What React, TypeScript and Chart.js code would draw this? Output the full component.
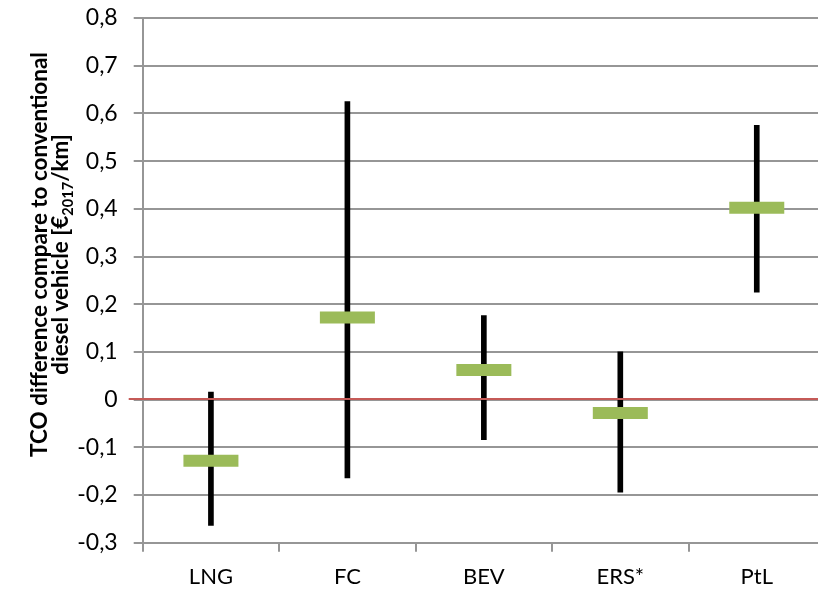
import React, { useEffect, useRef } from 'react';
import { Chart, registerables } from 'chart.js';

Chart.register(...registerables);

// ---- data ----
const categories = ['LNG', 'FC', 'BEV', 'ERS*', 'PtL'];
const minValues = [-0.264, -0.164, -0.084, -0.194, 0.225];
const maxValues = [0.016, 0.625, 0.176, 0.1, 0.575];
const meanValues = [-0.128, 0.172, 0.062, -0.028, 0.402];
const referenceValue = 0;
const yMin = -0.3;
const yMax = 0.8;
const yStep = 0.1;
const titleLine1 = 'TCO difference compare to conventional';
const titleLine2Main = 'diesel vehicle [€';
const titleLine2Sub = '2017';
const titleLine2End = '/km]';

const FAMILY = 'Lato, "Open Sans", sans-serif';
const GRID = '#969696';

function fmt(v: number): string {
  const r = Math.round(v * 10) / 10;
  if (r === 0) return '0';
  return r.toFixed(1).replace('.', ',');
}

function zeroPadding(scale: any) {
  scale.paddingTop = 0;
  scale.paddingBottom = 0;
  scale.paddingLeft = 0;
  scale.paddingRight = 0;
}

export default function App() {
  const ref = useRef<HTMLCanvasElement>(null);

  useEffect(() => {
    const canvas = ref.current;
    if (!canvas) return;

    const refLinePlugin = {
      id: 'refLine',
      afterDatasetDraw(chart: any, args: any) {
        if (args.index !== 0) return;
        const ctx = chart.ctx;
        const y = chart.scales.y.getPixelForValue(referenceValue);
        ctx.save();
        ctx.strokeStyle = '#c55a57';
        ctx.lineWidth = 2;
        ctx.beginPath();
        ctx.moveTo(chart.chartArea.left - 14, y - 0.5);
        ctx.lineTo(chart.chartArea.right, y - 0.5);
        ctx.stroke();
        ctx.restore();
      },
    };

    const titlePlugin = {
      id: 'yTitle',
      afterDraw(chart: any) {
        const ctx = chart.ctx;
        ctx.save();
        let size = 22;
        ctx.font = `bold ${size}px ${FAMILY}`;
        const w0 = ctx.measureText(titleLine1).width;
        size = (size * 405) / w0;
        const subSize = size * 0.65;
        const cy = 254.5;
        ctx.fillStyle = '#000';
        ctx.textBaseline = 'alphabetic';
        // line 1
        ctx.save();
        ctx.translate(47, cy);
        ctx.rotate(-Math.PI / 2);
        ctx.font = `bold ${size}px ${FAMILY}`;
        ctx.textAlign = 'center';
        ctx.fillText(titleLine1, 0, 0);
        ctx.restore();
        // line 2 with subscript
        ctx.save();
        ctx.translate(68, cy);
        ctx.rotate(-Math.PI / 2);
        ctx.textAlign = 'left';
        ctx.font = `bold ${size}px ${FAMILY}`;
        const a = ctx.measureText(titleLine2Main).width;
        const c = ctx.measureText(titleLine2End).width;
        ctx.font = `bold ${subSize}px ${FAMILY}`;
        const b = ctx.measureText(titleLine2Sub).width;
        let x = -(a + b + c) / 2;
        ctx.font = `bold ${size}px ${FAMILY}`;
        ctx.fillText(titleLine2Main, x, 0);
        x += a;
        ctx.font = `bold ${subSize}px ${FAMILY}`;
        ctx.fillText(titleLine2Sub, x, size * 0.22);
        x += b;
        ctx.font = `bold ${size}px ${FAMILY}`;
        ctx.fillText(titleLine2End, x, 0);
        ctx.restore();
        ctx.restore();
      },
    };

    const chart = new Chart(canvas, {
      type: 'bar',
      data: {
        labels: categories,
        datasets: [
          {
            type: 'bar',
            data: categories.map((_, i) => [minValues[i], maxValues[i]]) as any,
            backgroundColor: '#000000',
            borderWidth: 0,
            barThickness: 5,
            order: 1,
          },
          {
            type: 'line',
            data: meanValues,
            showLine: false,
            pointStyle: 'line',
            pointRadius: 27.5,
            pointHoverRadius: 27.5,
            pointBorderWidth: 12,
            pointHoverBorderWidth: 12,
            pointBorderColor: '#9bbb59',
            pointBackgroundColor: '#9bbb59',
            order: 0,
          } as any,
        ],
      },
      options: {
        animation: false,
        responsive: true,
        maintainAspectRatio: false,
        events: [],
        layout: { autoPadding: false, padding: { top: 18, right: 5, bottom: 0, left: 0 } },
        plugins: {
          legend: { display: false },
          tooltip: { enabled: false },
        },
        scales: {
          x: {
            type: 'category',
            offset: true,
            grid: {
              offset: true,
              drawOnChartArea: false,
              drawTicks: true,
              tickLength: 9,
              color: GRID,
              lineWidth: 2,
            },
            border: { color: GRID, width: 2 },
            ticks: {
              font: { family: FAMILY, size: 22 },
              color: '#000',
              padding: 12,
              maxRotation: 0,
            },
            afterFit(scale: any) {
              scale.height = 49.3;
              zeroPadding(scale);
            },
          },
          y: {
            type: 'linear',
            min: yMin,
            max: yMax,
            grid: {
              color: GRID,
              lineWidth: 2,
              tickLength: 9,
            },
            border: { color: GRID, width: 2 },
            ticks: {
              stepSize: yStep,
              font: { family: FAMILY, size: 23 },
              color: '#000',
              padding: 16,
              callback: (v: any) => fmt(Number(v)),
            },
            afterFit(scale: any) {
              scale.width = 142.7;
              zeroPadding(scale);
            },
          },
        },
      },
      plugins: [refLinePlugin, titlePlugin],
    });

    return () => chart.destroy();
  }, []);

  return (
    <div
      style={{
        position: 'fixed',
        left: 0,
        top: 0,
        width: 818,
        height: 592,
        overflow: 'hidden',
        background: '#fff',
      }}
    >
      <div style={{ position: 'relative', width: 830, height: 592 }}>
        <canvas ref={ref} />
      </div>
    </div>
  );
}
